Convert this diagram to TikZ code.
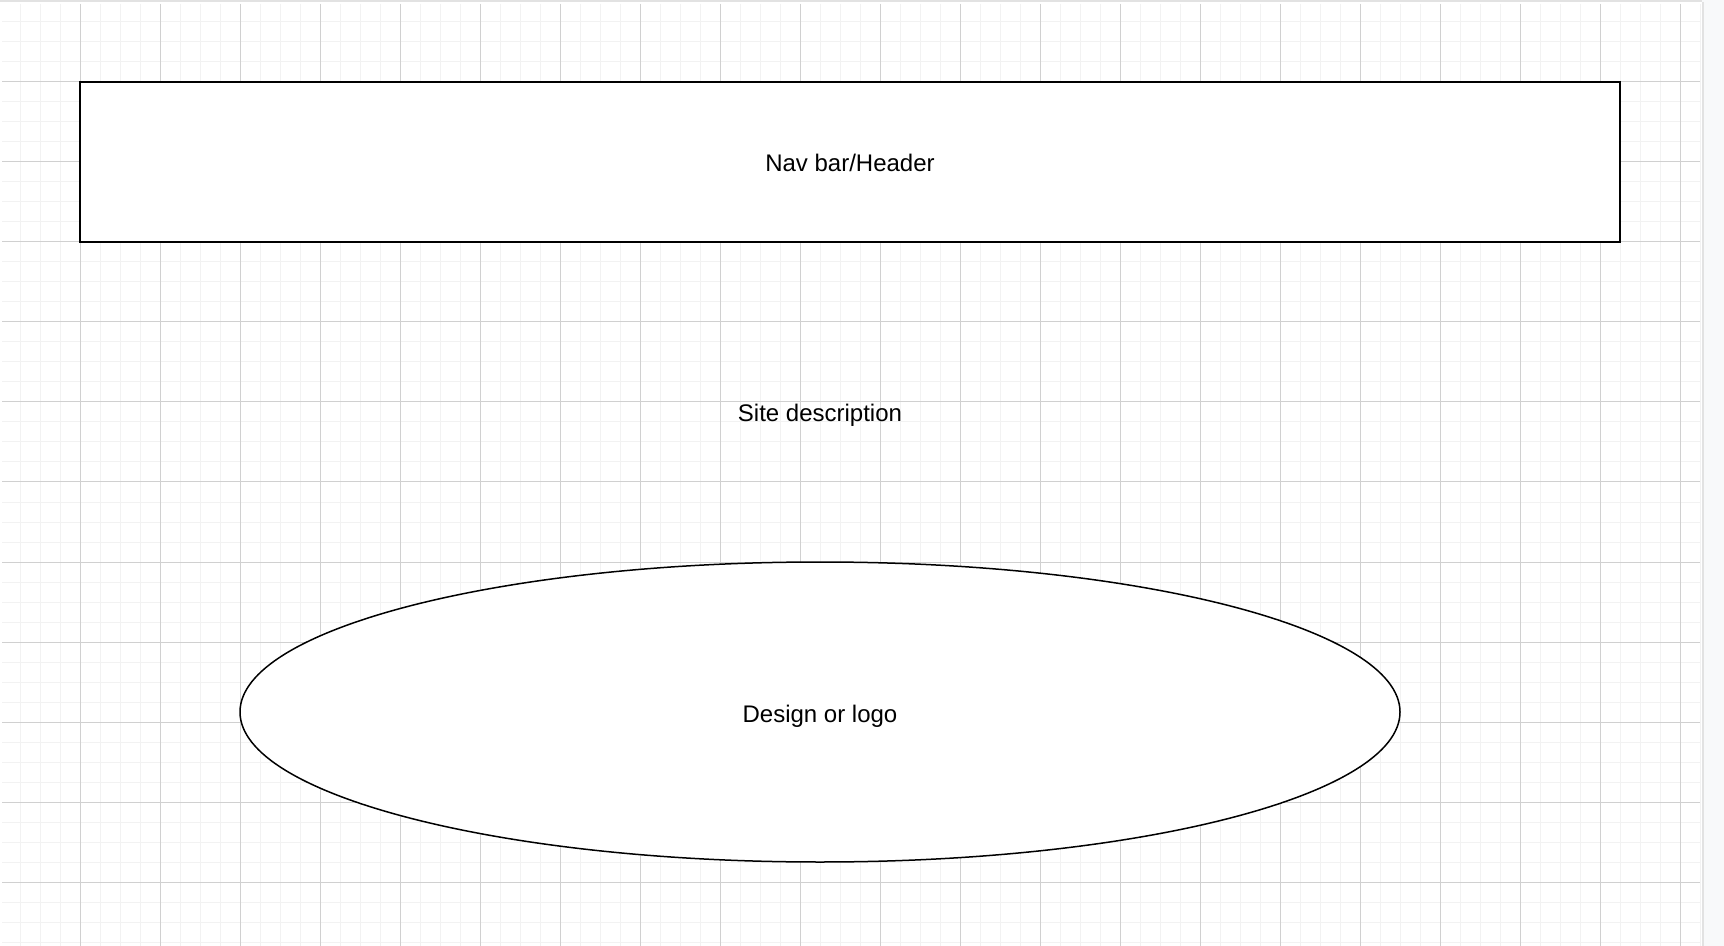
\documentclass[tikz,border=0pt]{standalone}
\usepackage{fontspec}
\setmainfont{Liberation Sans}
\usepackage{tikz}
\usetikzlibrary{shapes.geometric}
\definecolor{gridminor}{HTML}{F2F2F2}
\definecolor{gridmajor}{HTML}{D0D0D0}
\definecolor{pageback}{HTML}{F8F9FA}
\definecolor{pageedge}{HTML}{E2E2E2}
\tikzset{
  % Linee della griglia di sfondo
  minor line/.style={gridminor, line width=0.5pt},
  major line/.style={gridmajor, line width=0.5pt},
  % Testo centrato come nell'originale
  page text/.style={font=\fontsize{12}{14}\selectfont, text height=10pt, text depth=0pt},
  % Blocchi della pagina
  page box/.style={page text, draw, fill=white, line width=0.85pt, inner sep=0pt},
  page oval/.style={page box, ellipse, line width=0.75pt}
}

\begin{document}
\begin{tikzpicture}[x=0.5pt, y=-0.5pt]
    \useasboundingbox (0,0) rectangle (1724,946);
    \fill[pageback] (0,0) rectangle (1724,946);
    \fill[white] (0,2) rectangle (1702,946);
    \draw[pageedge, line width=1pt] (0,1) -- (1702,1);
    \draw[pageedge, line width=1pt] (1703,2) -- (1703,946);

    % griglia
    \foreach \gx in {20,40,...,1700} \draw[minor line] (\gx,4) -- (\gx,946);
    \foreach \gy in {22,42,...,942} \draw[minor line] (2,\gy) -- (1700,\gy);
    \foreach \gx in {80,160,...,1680} \draw[major line] (\gx,4) -- (\gx,946);
    \foreach \gy in {82,162,...,882} \draw[major line] (2,\gy) -- (1700,\gy);

    % Intestazione
    \node[page box, minimum width=770pt, minimum height=80pt] (header) at (850,162) {Nav bar/Header};

    % Descrizione
    \node[page text] (desc) at (820,412) {Site description};

    % Logo
    \node[page oval, minimum width=580pt, minimum height=150pt] (logo) at (820,712) {Design or logo};
  \end{tikzpicture}
\end{document}
